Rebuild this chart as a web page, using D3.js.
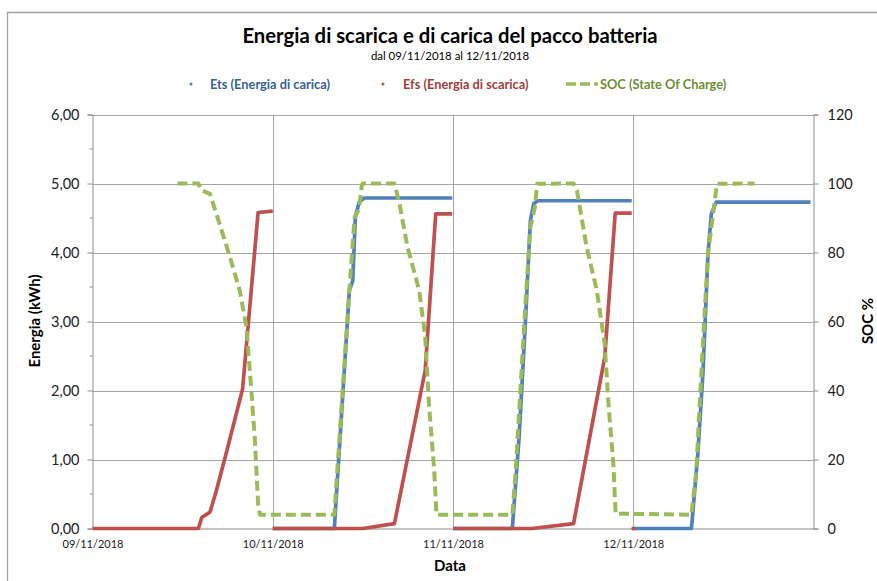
<!DOCTYPE html>
<html>
<head>
<meta charset="utf-8">
<script src="https://cdn.jsdelivr.net/npm/d3@7"></script>
<style>
  html, body { margin: 0; padding: 0; background: #fff; }
  svg { display: block; font-family: Lato, "Open Sans", sans-serif; }
</style>
</head>
<body>
<svg id="chart" width="877" height="581"></svg>
<script>
// ---------------- DATA (hours from 09/11/2018 00:00) ----------------
const dayLabels = ["09/11/2018", "10/11/2018", "11/11/2018", "12/11/2018"];
const dayHours = [0, 24, 48, 72];
const energyTicks = [0, 1, 2, 3, 4, 5, 6];
const socTicks = [0, 20, 40, 60, 80, 100, 120];

// Ets (Energia di carica) — null marks a gap between days
const etsHours  = [24, 32.2, 34.2, 34.65, 35.0, 35.5, 36.2, 47.9, null,
                   48, 55.9, 56.8, 57.65, 58.3, 58.75, 59.3, 71.8, null,
                   72, 79.75, 80.6, 81.3, 81.95, 82.4, 83.05, 95.6];
const etsValues = [0, 0, 3.45, 3.59, 4.51, 4.73, 4.79, 4.79, null,
                   0, 0, 1.32, 3.01, 4.46, 4.71, 4.75, 4.75, null,
                   0, 0, 1.08, 2.29, 3.98, 4.56, 4.73, 4.73];

// Efs (Energia di scarica)
const efsHours  = [0, 14.1, 14.55, 15.65, 16.5, 17.9, 19.98, 22.05, 24.0, null,
                   24.0, 36.0, 40.2, 44.3, 45.7, 47.9, null,
                   48, 58.5, 64.05, 68.2, 69.6, 71.8, null,
                   72];
const efsValues = [0, 0, 0.16, 0.24, 0.55, 1.13, 2.02, 4.58, 4.60, null,
                   0, 0, 0.07, 2.29, 4.56, 4.56, null,
                   0, 0, 0.07, 2.48, 4.57, 4.57, null,
                   0];

// SOC (State Of Charge) %
const socHours  = [11.3, 14.1, 14.55, 15.65, 16.5, 18.3, 19.6, 20.5, 20.95, 21.6, 22.05, 22.3,
                   32.0, 32.2, 34.2, 34.9, 35.5, 35.85, 36.0, 40.2, 40.85, 41.95, 43.5, 44.3, 44.8, 45.5, 45.8,
                   55.9, 56.35, 57.0, 57.65, 58.3, 58.9, 59.2, 64.05, 64.5, 65.8, 67.15, 68.2, 68.7, 69.35, 69.65,
                   79.75, 80.4, 80.85, 81.45, 81.95, 82.4, 82.85, 83.15, 88.15];
const socValues = [100, 100, 98, 97, 91.2, 78.7, 69, 58.4, 45.8, 26.5, 7.2, 4,
                   4, 4, 69, 90.2, 92.7, 99.4, 100, 100, 94.4, 81.5, 69, 55.5, 36.1, 16.8, 4,
                   4, 16.8, 41, 65.2, 87.3, 93.1, 99.9, 100, 98, 81.5, 69, 53.5, 36.1, 18.8, 4.3,
                   4, 16.8, 36.1, 60.3, 79.6, 87.3, 95, 99.9, 100];

const seriesNames = ["Ets (Energia di carica)", "Efs (Energia di scarica)", "SOC (State Of Charge)"];
const titleText = "Energia di scarica e di carica del pacco batteria";
const subtitleText = "dal 09/11/2018 al 12/11/2018";

// ---------------- CHART ----------------
const svg = d3.select("#chart");
const colors = { ets: "#4F81BD", efs: "#C0504D", soc: "#9BBB59" };
const textColors = { ets: "#365F91", efs: "#A13E3B", soc: "#6E8F33" };
const gridColor = "#a6a6a6";
const axisColor = "#8c8c8c";

const pLeft = 92.5, pRight = 813.5, pTop = 114.5, pBottom = 528.5;
const x = d3.scaleLinear().domain([0, 96]).range([pLeft, pRight]);
const y = d3.scaleLinear().domain([0, 6]).range([pBottom, pTop]);
const y2 = d3.scaleLinear().domain([0, 120]).range([pBottom, pTop]);

const it = d3.formatLocale({ decimal: ",", thousands: ".", grouping: [3], currency: ["", " €"] });
const fmt2 = it.format(".2f");

// outer border (chart area frame)
svg.append("path").attr("d", `M7.5,581 V12.5 H877`).attr("fill", "none")
  .attr("stroke", "#a0a0a0").attr("stroke-width", 1.3);

// title
svg.append("text").attr("x", 450).attr("y", 43).attr("text-anchor", "middle")
  .attr("font-size", 20.3).attr("font-weight", "bold").attr("fill", "#000").text(titleText);
svg.append("text").attr("x", 450).attr("y", 60).attr("text-anchor", "middle")
  .attr("font-size", 11.4).attr("fill", "#000").text(subtitleText);

// gridlines
const g = svg.append("g");
g.selectAll("line.hg").data(energyTicks.filter(d => d > 0)).join("line")
  .attr("x1", pLeft).attr("x2", pRight)
  .attr("y1", d => Math.round(y(d)) + 0.5).attr("y2", d => Math.round(y(d)) + 0.5)
  .attr("stroke", gridColor).attr("stroke-width", 1);
g.selectAll("line.vg").data(dayHours.filter(d => d > 0)).join("line")
  .attr("x1", d => Math.round(x(d)) + 0.5).attr("x2", d => Math.round(x(d)) + 0.5)
  .attr("y1", pTop).attr("y2", pBottom)
  .attr("stroke", gridColor).attr("stroke-width", 1);

// left axis
const yAxis = d3.axisLeft(y).tickValues(energyTicks).tickFormat(fmt2).tickSize(5).tickPadding(8);
const yAx = svg.append("g").attr("transform", `translate(${pLeft},0)`).call(yAxis);
yAx.select(".domain").attr("stroke", axisColor);
yAx.selectAll(".tick line").attr("stroke", axisColor);
yAx.selectAll(".tick text").attr("font-size", 14.5).attr("fill", "#222").attr("font-family", "Lato");
// minor ticks
svg.append("g").selectAll("line").data(d3.range(0.5, 6, 1)).join("line")
  .attr("x1", pLeft - 3).attr("x2", pLeft)
  .attr("y1", d => y(d)).attr("y2", d => y(d)).attr("stroke", axisColor);

// right axis
const y2Axis = d3.axisRight(y2).tickValues(socTicks).tickSize(5).tickPadding(9);
const y2Ax = svg.append("g").attr("transform", `translate(${pRight},0)`).call(y2Axis);
y2Ax.select(".domain").attr("stroke", axisColor);
y2Ax.selectAll(".tick line").attr("stroke", axisColor);
y2Ax.selectAll(".tick text").attr("font-size", 14.5).attr("fill", "#222").attr("font-family", "Lato");

// bottom axis
const xAxis = d3.axisBottom(x).tickValues(dayHours).tickFormat((d, i) => dayLabels[i]).tickSize(0).tickPadding(12);
const xAx = svg.append("g").attr("transform", `translate(0,${pBottom})`).call(xAxis);
xAx.select(".domain").attr("stroke", axisColor);
xAx.selectAll(".tick text").attr("font-size", 11).attr("fill", "#222").attr("font-family", "Lato");

// axis titles
svg.append("text").attr("x", 450).attr("y", 571).attr("text-anchor", "middle")
  .attr("font-size", 15).attr("font-weight", "bold").attr("fill", "#000").text("Data");
svg.append("text").attr("transform", "translate(40,321) rotate(-90)").attr("text-anchor", "middle")
  .attr("font-size", 15).attr("font-weight", "bold").attr("fill", "#000").text("Energia (kWh)");
svg.append("text").attr("transform", "translate(873,321) rotate(-90)").attr("text-anchor", "middle")
  .attr("font-size", 15).attr("font-weight", "bold").attr("fill", "#000").text("SOC %");

// series
function pts(hs, vs) { return hs.map((h, i) => ({ h, v: vs[i] })); }
const lineE = d3.line().defined(d => d.h !== null && d.v !== null).x(d => x(d.h)).y(d => y(d.v));
const lineS = d3.line().defined(d => d.h !== null && d.v !== null).x(d => x(d.h)).y(d => y2(d.v));

const etsData = pts(etsHours, etsValues);
const efsData = pts(efsHours, efsValues);
const socData = pts(socHours, socValues);

svg.append("path").datum(etsData).attr("d", lineE).attr("fill", "none")
  .attr("stroke", colors.ets).attr("stroke-width", 3.7).attr("stroke-linejoin", "round");
svg.append("path").datum(efsData).attr("d", lineE).attr("fill", "none")
  .attr("stroke", colors.efs).attr("stroke-width", 3.7).attr("stroke-linejoin", "round");
// isolated points (single-point segments) as markers
const isolated = efsData.filter((d, i, a) => d.h !== null &&
  (i === 0 || a[i - 1].h === null) && (i === a.length - 1 || a[i + 1].h === null));
svg.append("g").selectAll("circle").data(isolated).join("circle")
  .attr("cx", d => x(d.h)).attr("cy", d => y(d.v)).attr("r", 2).attr("fill", colors.efs);
svg.append("path").datum(socData).attr("d", lineS).attr("fill", "none")
  .attr("stroke", colors.soc).attr("stroke-width", 4).attr("stroke-dasharray", "10,5")
  .attr("stroke-linejoin", "round");

// legend
const leg = svg.append("g").attr("font-size", 12.8).attr("font-weight", "bold");
leg.append("circle").attr("cx", 191).attr("cy", 84).attr("r", 1.5).attr("fill", colors.ets);
leg.append("text").attr("x", 210).attr("y", 88.5).attr("fill", textColors.ets).text(seriesNames[0]);
leg.append("circle").attr("cx", 383).attr("cy", 84).attr("r", 1.5).attr("fill", colors.efs);
leg.append("text").attr("x", 403).attr("y", 88.5).attr("fill", textColors.efs).text(seriesNames[1]);
leg.append("line").attr("x1", 566).attr("x2", 598).attr("y1", 84).attr("y2", 84)
  .attr("stroke", colors.soc).attr("stroke-width", 3.5).attr("stroke-dasharray", "10,4");
leg.append("text").attr("x", 600).attr("y", 88.5).attr("fill", textColors.soc).text(seriesNames[2]);
</script>
</body>
</html>
